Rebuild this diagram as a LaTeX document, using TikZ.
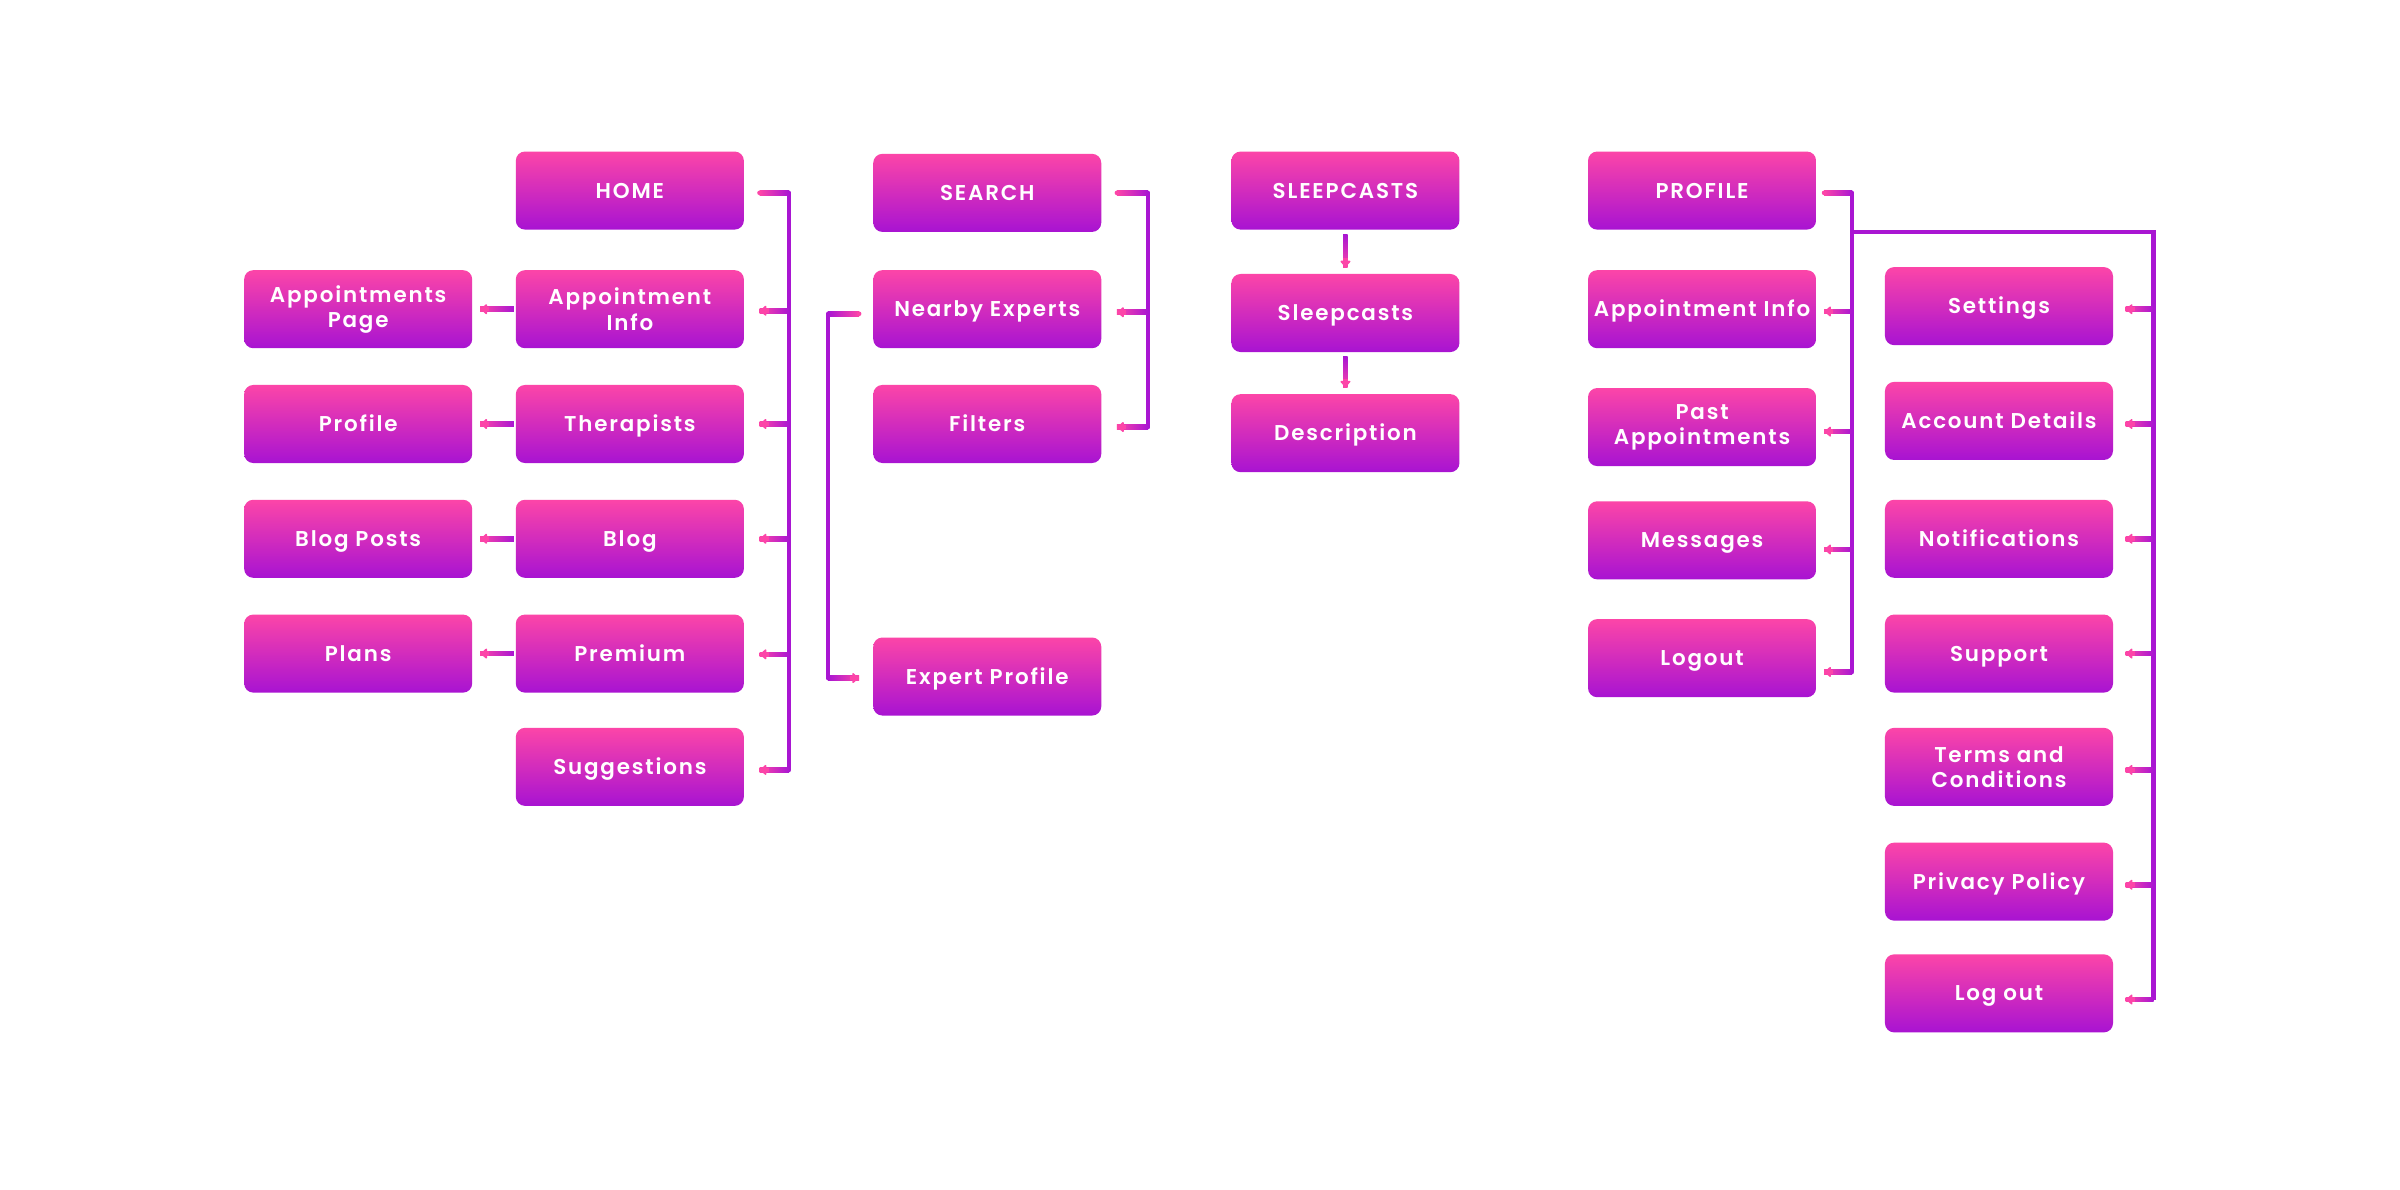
\documentclass[tikz,border=0pt]{standalone}
\usepackage{fontspec}
\IfFontExistsTF{Poppins SemiBold}
  {\setmainfont{Poppins SemiBold}[LetterSpace=8.5]\newcommand\boxweight{}}
  {\setmainfont{Poppins}[LetterSpace=7]\newcommand\boxweight{\bfseries}}
\usetikzlibrary{arrows.meta,calc}
\definecolor{pinkc}{HTML}{FC45A8}
\definecolor{purc}{HTML}{A813D2}
\definecolor{linec}{HTML}{A916D2}
\tikzset{
  box/.style={rounded corners=6pt, top color=pinkc, bottom color=purc,
    minimum width=149pt, minimum height=51pt, text=white, align=center,
    inner sep=0pt, font=\boxweight\fontsize{14}{16.5}\selectfont,
    text height=9.8pt, text depth=0pt},
  two/.style={text height={}, text depth={}},
  conn/.style={draw=linec, line width=3pt, line cap=round},
  tipst/.style={pinkc, line width=3pt, -{Latex[round,length=5pt,width=8.5pt]}},
}
% stub with arrow, pointing left into #1.east; #2 bus coordinate; #3 dy; #4 gap
\newcommand\stubW[4]{%
  \shade[left color=pinkc,right color=linec] ($(#1.east)+(#4,#3-1.5)$) rectangle ($(#2|-#1.east)+(0,#3+1.5)$);
  \draw[tipst] ($(#1.east)+(#4+6,#3)$) -- ($(#1.east)+(#4,#3)$);
}
% free stub leaving #1.east to bus #2
\newcommand\stubS[4]{%
  \shade[left color=pinkc,right color=linec] ($(#1.east)+(#4,#3-1.5)$) rectangle ($(#2|-#1.east)+(0,#3+1.5)$);
  \fill[pinkc] ($(#1.east)+(#4,#3)$) circle (1.5);
}
% link from #2.west to #1.east (arrow left)
\newcommand\linkW[3]{%
  \shade[left color=pinkc,right color=linec] ($(#1.east)+(#3,-1.5)$) rectangle ($(#2.west)+(-1,1.5)$);
  \draw[tipst] ($(#1.east)+(#3+6,0)$) -- ($(#1.east)+(#3,0)$);
}
% vertical link from #1.south down to #2.north
\newcommand\linkS[2]{%
  \shade[top color=linec,bottom color=pinkc] ($(#1.south)+(-1.5,3)$) rectangle ($(#2.north)+(1.5,-4)$);
  \draw[tipst] ($(#2.north)+(0,-10)$) -- ($(#2.north)+(0,-4)$);
}
\begin{document}
\begin{tikzpicture}[x=1pt,y=-1pt]
\useasboundingbox (0,0) rectangle (1568,777);
\fill[white] (0,0) rectangle (1568,777);

% column A
\node[box,two] (apptpage) at (234,202) {Appointments\\Page};
\node[box] (profa) at (234,277) {Profile};
\node[box] (blogposts) at (234,352) {Blog Posts};
\node[box] (plans) at (234,427) {Plans};
% column B
\node[box] (home) at (411.5,124.5) {HOME};
\node[box,two] (apptinfo) at (411.5,202) {Appointment\\Info};
\node[box] (therap) at (411.5,277) {Therapists};
\node[box] (blog) at (411.5,352) {Blog};
\node[box] (prem) at (411.5,427) {Premium};
\node[box] (sugg) at (411.5,501) {Suggestions};
% column C
\node[box] (search) at (645,126) {SEARCH};
\node[box] (nearby) at (645,202) {Nearby Experts};
\node[box] (filters) at (645,277) {Filters};
\node[box] (expert) at (645,442) {Expert Profile};
% column D
\node[box] (sleepA) at (879,124.5) {SLEEPCASTS};
\node[box] (sleepB) at (879,204.5) {Sleepcasts};
\node[box] (desc) at (879,283) {Description};
% column E
\node[box] (profile) at (1112,124.5) {PROFILE};
\node[box] (apptE) at (1112,202) {Appointment Info};
\node[box,two] (past) at (1112,279) {Past\\Appointments};
\node[box] (msgs) at (1112,353) {Messages};
\node[box] (logout) at (1112,430) {Logout};
% column F
\node[box] (settings) at (1306,200) {Settings};
\node[box] (account) at (1306,275) {Account Details};
\node[box] (notif) at (1306,352) {Notifications};
\node[box] (support) at (1306,427) {Support};
\node[box,two] (terms) at (1306,501) {Terms and\\Conditions};
\node[box] (privacy) at (1306,576) {Privacy Policy};
\node[box] (logout2) at (1306,649) {Log out};

% HOME group
\coordinate (hb) at (515.5,0);
\draw[conn] ($(hb|-home.east)+(0,1.5)$) -- ($(hb|-sugg.east)+(0,2)$);
\stubS{home}{hb}{1.5}{10}
\stubW{apptinfo}{hb}{1}{10}
\stubW{therap}{hb}{0}{10}
\stubW{blog}{hb}{0}{10}
\stubW{prem}{hb}{0.5}{10}
\stubW{sugg}{hb}{2}{10}
\linkW{apptpage}{apptinfo}{5}
\linkW{profa}{therap}{5}
\linkW{blogposts}{blog}{5}
\linkW{plans}{prem}{5}

% SEARCH group
\coordinate (sb) at (750,0);
\draw[conn] ($(sb|-search.east)+(0,0)$) -- ($(sb|-filters.east)+(0,2)$);
\stubS{search}{sb}{0}{10}
\stubW{nearby}{sb}{2}{10}
\stubW{filters}{sb}{2}{10}

% Nearby Experts -> Expert Profile
\coordinate (eb) at (541,0);
\draw[conn] ($(eb|-nearby.west)+(0,3)$) -- ($(eb|-expert.west)+(0,1)$);
\shade[left color=linec,right color=pinkc] ($(eb|-nearby.west)+(0,1.5)$) rectangle ($(nearby.west)+(-9,4.5)$);
\fill[pinkc] ($(nearby.west)+(-9,3)$) circle (1.5);
\shade[left color=linec,right color=pinkc] ($(eb|-expert.west)+(0,-0.5)$) rectangle ($(expert.west)+(-9,2.5)$);
\draw[tipst] ($(expert.west)+(-15,1)$) -- ($(expert.west)+(-9,1)$);

% SLEEPCASTS
\linkS{sleepA}{sleepB}
\linkS{sleepB}{desc}

% PROFILE group
\coordinate (pb) at (1210,0);
\coordinate (qb) at (1407,0);
\draw[conn] ($(pb|-profile.east)+(0,1.5)$) -- ($(pb|-logout.east)+(0,9)$);
\stubS{profile}{pb}{1.5}{5}
\stubW{apptE}{pb}{1.5}{5}
\stubW{past}{pb}{3}{5}
\stubW{msgs}{pb}{6}{5}
\stubW{logout}{pb}{9}{5}
\draw[conn, line cap=butt] ($(pb|-profile.south)+(0,1.5)$) -- ($(qb|-profile.south)+(0,1.5)$) -- ($(qb|-logout2.east)+(0,4)$);
\stubW{settings}{qb}{2}{8}
\stubW{account}{qb}{2}{8}
\stubW{notif}{qb}{0}{8}
\stubW{support}{qb}{0}{8}
\stubW{terms}{qb}{2}{8}
\stubW{privacy}{qb}{2}{8}
\stubW{logout2}{qb}{4}{8}
\end{tikzpicture}
\end{document}
